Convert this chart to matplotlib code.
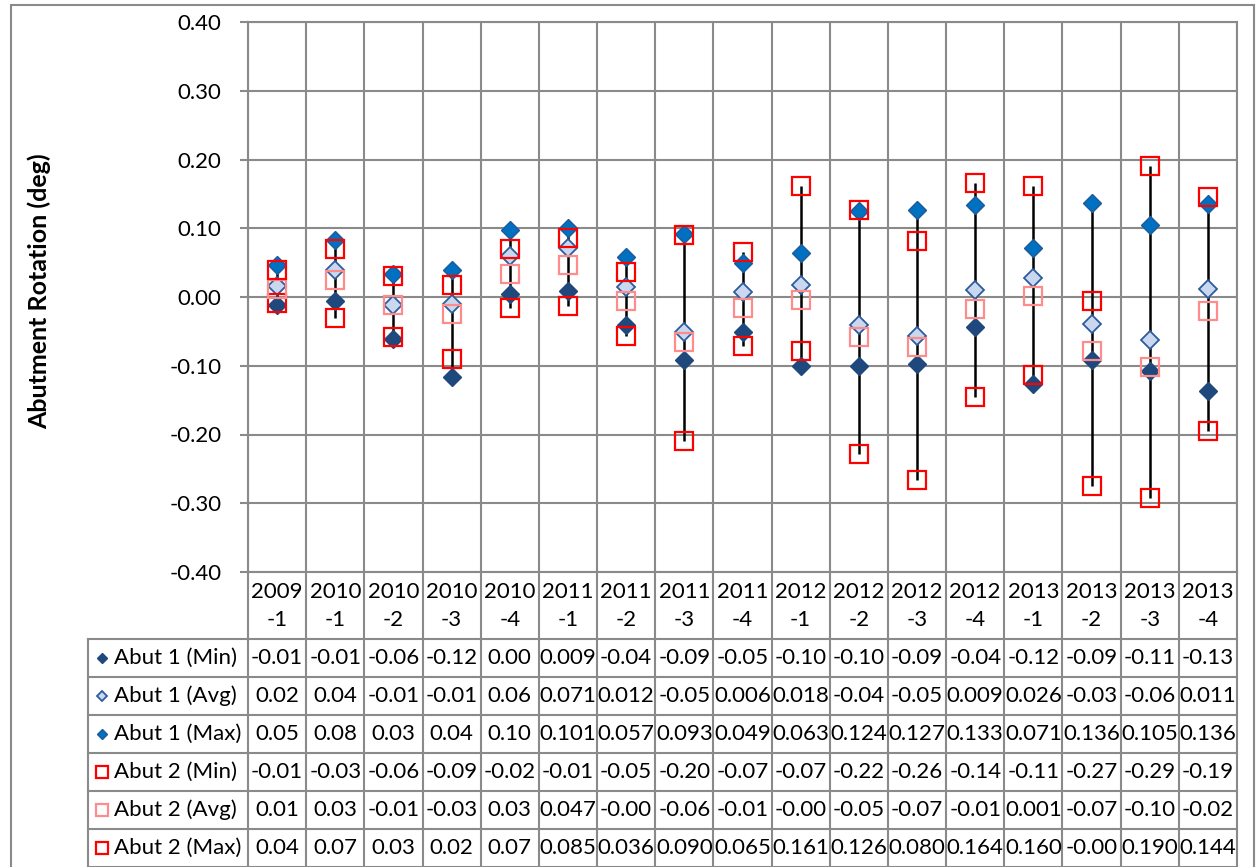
import numpy as np
import matplotlib
matplotlib.use('agg')
import matplotlib.pyplot as plt
from matplotlib.lines import Line2D
from matplotlib.patches import Rectangle
import matplotlib.transforms as mtransforms

plt.rcParams['font.family'] = ['Lato', 'DejaVu Sans']

## categories
years = ["2009", "2010", "2010", "2010", "2010", "2011", "2011", "2011", "2011",
         "2012", "2012", "2012", "2012", "2013", "2013", "2013", "2013"]
quarters = ["-1", "-1", "-2", "-3", "-4", "-1", "-2", "-3", "-4",
            "-1", "-2", "-3", "-4", "-1", "-2", "-3", "-4"]

## plotted values
abut1_min = [-0.011, -0.006, -0.061, -0.117, 0.005, 0.009, -0.040, -0.091, -0.051,
             -0.101, -0.101, -0.098, -0.043, -0.126, -0.092, -0.107, -0.137]
abut1_avg = [0.016, 0.040, -0.011, -0.010, 0.059, 0.072, 0.014, -0.051, 0.007,
             0.018, -0.040, -0.056, 0.010, 0.027, -0.039, -0.062, 0.012]
abut1_max = [0.047, 0.083, 0.034, 0.039, 0.098, 0.101, 0.058, 0.092, 0.050,
             0.064, 0.125, 0.127, 0.134, 0.072, 0.137, 0.105, 0.136]
abut2_min = [-0.008, -0.031, -0.058, -0.090, -0.016, -0.013, -0.056, -0.209, -0.071,
             -0.078, -0.229, -0.266, -0.146, -0.113, -0.275, -0.293, -0.195]
abut2_avg = [0.012, 0.025, -0.012, -0.025, 0.034, 0.047, -0.006, -0.066, -0.016,
             -0.005, -0.058, -0.073, -0.017, 0.002, -0.078, -0.102, -0.021]
abut2_max = [0.040, 0.070, 0.030, 0.017, 0.070, 0.086, 0.036, 0.090, 0.065,
             0.161, 0.127, 0.081, 0.166, 0.161, -0.006, 0.190, 0.145]

## data table text (as printed under the chart)
abut1_min_txt = ["-0.01", "-0.01", "-0.06", "-0.12", "0.00", "0.009", "-0.04", "-0.09", "-0.05",
                 "-0.10", "-0.10", "-0.09", "-0.04", "-0.12", "-0.09", "-0.11", "-0.13"]
abut1_avg_txt = ["0.02", "0.04", "-0.01", "-0.01", "0.06", "0.071", "0.012", "-0.05", "0.006",
                 "0.018", "-0.04", "-0.05", "0.009", "0.026", "-0.03", "-0.06", "0.011"]
abut1_max_txt = ["0.05", "0.08", "0.03", "0.04", "0.10", "0.101", "0.057", "0.093", "0.049",
                 "0.063", "0.124", "0.127", "0.133", "0.071", "0.136", "0.105", "0.136"]
abut2_min_txt = ["-0.01", "-0.03", "-0.06", "-0.09", "-0.02", "-0.01", "-0.05", "-0.20", "-0.07",
                 "-0.07", "-0.22", "-0.26", "-0.14", "-0.11", "-0.27", "-0.29", "-0.19"]
abut2_avg_txt = ["0.01", "0.03", "-0.01", "-0.03", "0.03", "0.047", "-0.00", "-0.06", "-0.01",
                 "-0.00", "-0.05", "-0.07", "-0.01", "0.001", "-0.07", "-0.10", "-0.02"]
abut2_max_txt = ["0.04", "0.07", "0.03", "0.02", "0.07", "0.085", "0.036", "0.090", "0.065",
                 "0.161", "0.126", "0.080", "0.164", "0.160", "-0.00", "0.190", "0.144"]

series_names = ["Abut 1 (Min)", "Abut 1 (Avg)", "Abut 1 (Max)",
                "Abut 2 (Min)", "Abut 2 (Avg)", "Abut 2 (Max)"]
series_vals = [abut1_min, abut1_avg, abut1_max, abut2_min, abut2_avg, abut2_max]
series_text = [abut1_min_txt, abut1_avg_txt, abut1_max_txt,
               abut2_min_txt, abut2_avg_txt, abut2_max_txt]
yticks = [-0.4, -0.3, -0.2, -0.1, 0.0, 0.1, 0.2, 0.3, 0.4]

## styles
styles = [
    dict(marker='D', mfc='#1F497D', mec='#1F497D', ms=9, mew=1),
    dict(marker='D', mfc='#C9D8EF', mec='#2C5C9C', ms=9, mew=1.3),
    dict(marker='D', mfc='#0070C0', mec='#1F5A9A', ms=9, mew=1),
    dict(marker='s', mfc='none', mec='#FF0000', ms=13, mew=1.6),
    dict(marker='s', mfc='none', mec='#FF8C8C', ms=13, mew=1.6),
    dict(marker='s', mfc='none', mec='#FF0000', ms=13, mew=1.6),
]
grid_c = '#8A8A8A'
fs = 16

W, H = 1256, 867
fig = plt.figure(figsize=(W / 100, H / 100), dpi=100)
# plot area in pixels
px_l, px_r, px_t, px_b = 248, 1237, 22, 572
ax = fig.add_axes([px_l / W, 1 - px_b / H, (px_r - px_l) / W, (px_b - px_t) / H])

n = len(years)
x = np.arange(n)
vals = [np.array(v) for v in series_vals]

# high-low lines
allv = np.vstack(vals)
ax.vlines(x, allv.min(axis=0), allv.max(axis=0), color='black', lw=1.8, zorder=3)

for v, st in zip(vals, styles):
    ax.plot(x, v, linestyle='none', zorder=4, clip_on=False, **st)

ax.set_xlim(-0.5, n - 0.5)
ax.set_ylim(-0.4, 0.4)
ax.set_yticks(yticks)
ax.set_yticklabels(['%.2f' % t for t in yticks], fontsize=16)
ax.set_xticks([])
ax.set_xticks(np.arange(-0.5, n, 1), minor=True)
ax.tick_params(axis='x', which='both', length=0)
ax.tick_params(axis='y', length=6, width=1.5, color=grid_c, pad=13)
ax.grid(axis='y', color=grid_c, lw=1.5, zorder=0)
ax.grid(axis='x', which='minor', color=grid_c, lw=1.5, zorder=0)
for sp in ax.spines.values():
    sp.set_color(grid_c)
    sp.set_linewidth(1.5)
fig.text(39 / W, 1 - 291 / H, 'Abutment Rotation (deg)', rotation=90, fontsize=18,
         fontweight='bold', ha='center', va='center')

## data table below the plot
tr = mtransforms.blended_transform_factory(ax.transData, fig.transFigure)
def fy(py):
    return 1 - py / H

hdr_bot = 639
row_h = 38
rows_y = [hdr_bot + row_h * i for i in range(7)]
tbl_left = 88

# vertical lines of table
for b in np.arange(-0.5, n, 1):
    fig.add_artist(Line2D([b, b], [fy(px_b), fy(H + 5)], transform=tr, color=grid_c, lw=1.5))
# horizontal lines
for ry in rows_y:
    fig.add_artist(Line2D([tbl_left / W, px_r / W], [fy(ry), fy(ry)],
                          transform=fig.transFigure, color=grid_c, lw=1.5))
fig.add_artist(Line2D([tbl_left / W, tbl_left / W], [fy(hdr_bot), fy(H + 5)],
                      transform=fig.transFigure, color=grid_c, lw=1.5))

for i in range(n):
    fig.text(x[i], fy(592), years[i], transform=tr, ha='center', va='center', fontsize=fs)
    fig.text(x[i], fy(620), quarters[i], transform=tr, ha='center', va='center', fontsize=fs)

for r, (name, s, st) in enumerate(zip(series_names, series_text, styles)):
    cy = fy(rows_y[r] + row_h / 2)
    small = dict(st)
    small['ms'] = st['ms'] * 0.62
    fig.add_artist(Line2D([102 / W], [cy], transform=fig.transFigure, linestyle='none', **small))
    fig.text(114 / W, cy, name, ha='left', va='center', fontsize=fs)
    for i in range(n):
        fig.text(x[i], cy, s[i], transform=tr, ha='center', va='center', fontsize=fs)

# outer chart frame
fig.add_artist(Rectangle((11 / W, fy(H + 10)), (W - 13) / W, (H + 5) / H,
                         transform=fig.transFigure, fill=False, ec=grid_c, lw=1.5))

plt.savefig('out.png', dpi=100)
